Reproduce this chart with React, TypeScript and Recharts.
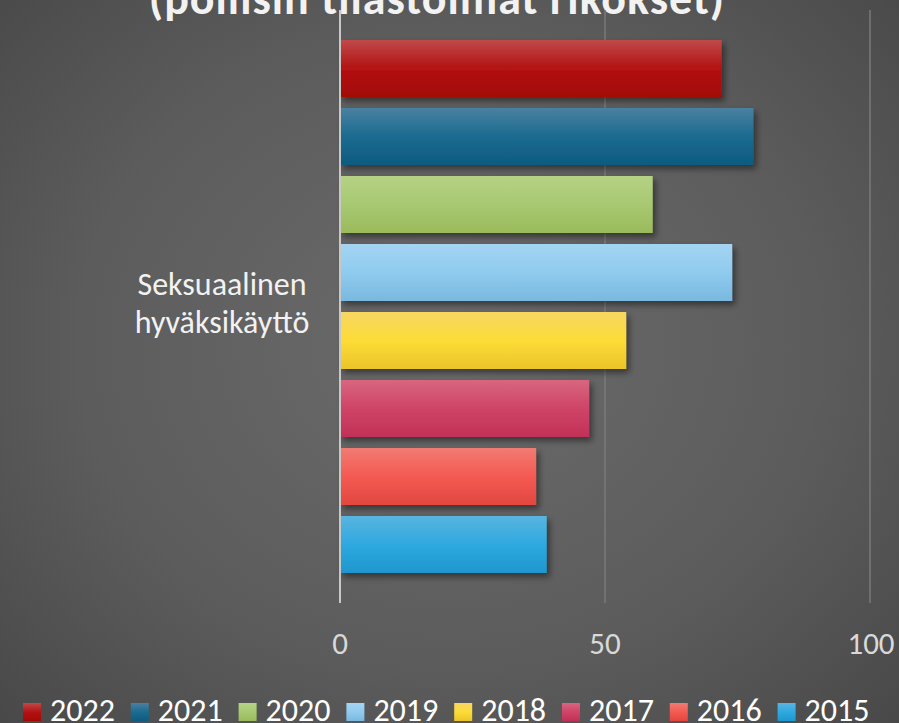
import { BarChart, Bar, XAxis, YAxis, CartesianGrid } from "recharts";

const categories = ["Seksuaalinen hyväksikäyttö"];
const years = ["2022", "2021", "2020", "2019", "2018", "2017", "2016", "2015"];
const values = [72, 78, 59, 74, 54, 47, 37, 39];
const xTicks = [0, 50, 100];

// top / middle / bottom shades for each year
const shades: Record<string, [string, string, string]> = {
  "2022": ["#c04a4a", "#b31212", "#a30a05"],
  "2021": ["#4a80a0", "#1b6b90", "#0e5b80"],
  "2020": ["#b5d284", "#a8c872", "#9abb5b"],
  "2019": ["#a4d4f2", "#8fcbee", "#7ab8df"],
  "2018": ["#f6d662", "#fcdc36", "#ebc42a"],
  "2017": ["#d8667f", "#cf4468", "#c13157"],
  "2016": ["#f07b73", "#f45a52", "#e2473f"],
  "2015": ["#5ab4e0", "#2ea9e0", "#1e97ce"],
};

const data = categories.map((name) => {
  const row: Record<string, string | number> = { name };
  years.forEach((y, i) => {
    row["y" + y] = values[i];
  });
  return row;
});

const FONT = "Carlito, 'Open Sans', sans-serif";

function CategoryTick(props: any) {
  const { y, payload } = props;
  const words = String(payload.value).split(" ");
  return (
    <text
      x={222}
      y={y}
      textAnchor="middle"
      fill="#f2f2f2"
      fontSize={32}
      fontFamily={FONT}
    >
      {words.map((w, i) => (
        <tspan key={i} x={222} dy={i === 0 ? -11.5 : 38}>
          {w}
        </tspan>
      ))}
    </text>
  );
}

function ValueTick(props: any) {
  const { x, payload } = props;
  return (
    <text
      x={payload.value === 100 ? x + 1 : x}
      y={654}
      textAnchor="middle"
      fill="#d9d9d9"
      fontSize={31}
      fontFamily={FONT}
    >
      {payload.value}
    </text>
  );
}

export default function App() {
  return (
    <div
      style={{
        position: "absolute",
        left: 0,
        top: 0,
        width: 899,
        height: 723,
        overflow: "hidden",
        background:
          "radial-gradient(ellipse 75% 80% at 50% 48%, #6b6b6b 0%, #5c5c5c 55%, #454545 100%)",
        fontFamily: FONT,
      }}
    >
      <svg
        width={899}
        height={40}
        style={{ position: "absolute", left: 0, top: 0 }}
      >
        <text
          x={437}
          y={14}
          textAnchor="middle"
          fill="#f2f2f2"
          fontSize={46}
          fontWeight={700}
          letterSpacing={1}
          fontFamily={FONT}
        >
          (poliisin tilastoimat rikokset)
        </text>
      </svg>
      <BarChart
        width={899}
        height={723}
        data={data}
        layout="vertical"
        margin={{ top: 10, right: 29, bottom: 0, left: 0 }}
        barSize={57}
        barGap={11}
        style={{ position: "absolute", left: 0, top: 0 }}
      >
        <defs>
          {years.map((y) => (
            <linearGradient key={y} id={"g" + y} x1="0" y1="0" x2="0" y2="1">
              <stop offset="0%" stopColor={shades[y][0]} />
              <stop offset="50%" stopColor={shades[y][1]} />
              <stop offset="100%" stopColor={shades[y][2]} />
            </linearGradient>
          ))}
          <filter id="shadow" x="-10%" y="-20%" width="130%" height="160%">
            <feDropShadow
              dx="3"
              dy="4"
              stdDeviation="3"
              floodColor="#000"
              floodOpacity="0.45"
            />
          </filter>
        </defs>
        <CartesianGrid
          horizontal={false}
          stroke="#7a7a7a"
          strokeWidth={1.5}
        />
        <XAxis
          type="number"
          domain={[0, 100]}
          ticks={xTicks}
          height={120}
          axisLine={false}
          tickLine={false}
          tick={<ValueTick />}
        />
        <YAxis
          type="category"
          dataKey="name"
          width={340}
          axisLine={{ stroke: "#c8c8c8", strokeWidth: 2 }}
          tickLine={false}
          tick={<CategoryTick />}
        />
        {years.map((y) => (
          <Bar
            key={y}
            dataKey={"y" + y}
            name={y}
            fill={`url(#g${y})`}
            filter="url(#shadow)"
            isAnimationActive={false}
          />
        ))}
      </BarChart>
      <svg
        width={899}
        height={40}
        style={{ position: "absolute", left: 0, top: 683 }}
      >
        {years.map((y, i) => {
          const x = 23 + i * 107.8;
          return (
            <g key={y}>
              <rect x={x} y={20} width={18} height={18} fill={`url(#lg${y})`} />
              <defs>
                <linearGradient id={"lg" + y} x1="0" y1="0" x2="0" y2="1">
                  <stop offset="0%" stopColor={shades[y][0]} />
                  <stop offset="50%" stopColor={shades[y][1]} />
                  <stop offset="100%" stopColor={shades[y][2]} />
                </linearGradient>
              </defs>
              <text
                x={x + 27}
                y={38}
                fill="#ffffff"
                fontSize={32}
                fontFamily={FONT}
              >
                {y}
              </text>
            </g>
          );
        })}
      </svg>
    </div>
  );
}
